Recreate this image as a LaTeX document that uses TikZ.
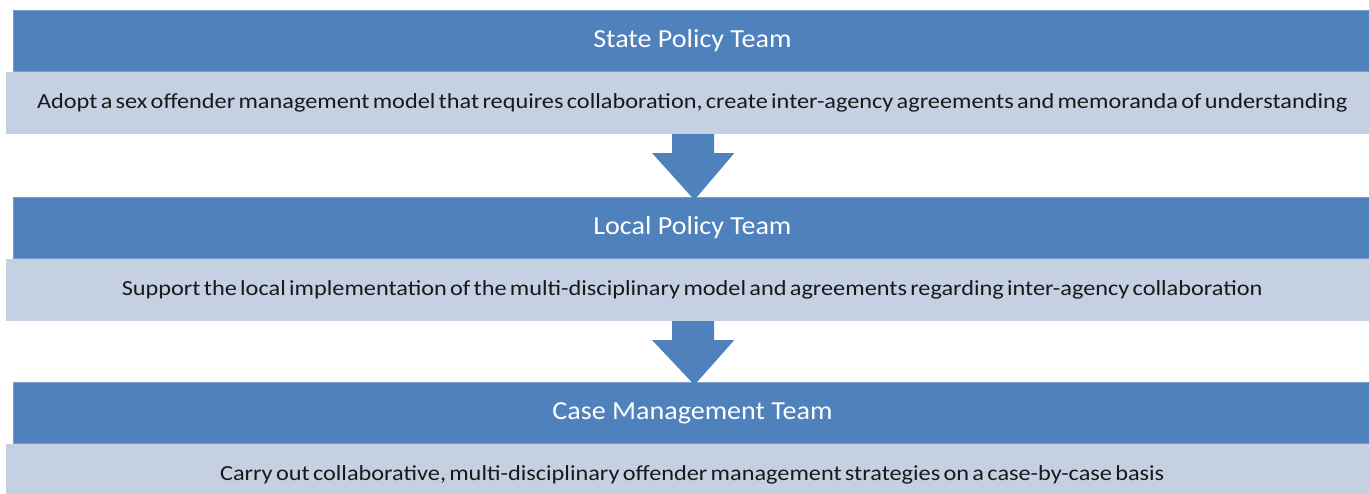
\documentclass[tikz,border=0pt]{standalone}
\usepackage{fontspec}
\setmainfont{Carlito}
\newfontfamily\teamfont[FakeStretch=1.08]{Carlito}
\newfontfamily\notefont[FakeStretch=1.13, WordSpace=0.6]{Carlito}
\usetikzlibrary{positioning,calc}
\definecolor{tmblue}{RGB}{79,129,189}
\definecolor{tmrim}{RGB}{120,158,206}
\definecolor{tmpale}{RGB}{197,208,227}
\definecolor{tmink}{RGB}{25,25,25}
\tikzset{
  teamhd/.style={
    fill=tmblue, draw=tmrim, line width=0.8pt, text=white,
    font=\teamfont\fontsize{26}{30}\selectfont, inner sep=0pt,
    minimum width=1358pt, minimum height=61pt, anchor=north west
  },
  teamtx/.style={
    fill=tmpale, text=tmink, font=\notefont\fontsize{21.5}{25}\selectfont,
    inner sep=0pt, minimum width=1372pt, minimum height=62pt
  },
  flow/.style={fill=tmblue}
}

\begin{document}
\begin{tikzpicture}[x=1pt, y=1pt]
  \useasboundingbox (0,0) rectangle (1369,-494);
  % three team bands, heading over description
  \node[teamhd] (hd1) at (13,-10) {State Policy Team};
  \node[teamtx, below=0pt of hd1.south west, anchor=north west, xshift=-7pt] (tx1)
    {Adopt a sex offender management model that requires collaboration, create inter-agency agreements and memoranda of understanding};
  \node[teamhd] (hd2) at (13,-197) {Local Policy Team};
  \node[teamtx, below=0pt of hd2.south west, anchor=north west, xshift=-7pt] (tx2)
    {Support the local implementation of the multi-disciplinary model and agreements regarding inter-agency collaboration};
  \node[teamhd] (hd3) at (13,-382) {Case Management Team};
  \node[teamtx, below=0pt of hd3.south west, anchor=north west, xshift=-7pt] (tx3)
    {Carry out collaborative, multi-disciplinary offender management strategies on a case-by-case basis};
  % block arrows between bands
  \fill[flow] ($(tx1.south)+(-20,0)$) -- ($(tx1.south)+(22,0)$) -- ++(0,-19) -- ++(20,0)
    -- ($(hd2.north)+(2,-3)$) -- ($(tx1.south)+(-40,-19)$) -- ++(20,0) -- cycle;
  \fill[flow] ($(tx2.south)+(-20,0)$) -- ($(tx2.south)+(22,0)$) -- ++(0,-19) -- ++(20,0)
    -- ($(hd3.north)+(2,-3)$) -- ($(tx2.south)+(-40,-19)$) -- ++(20,0) -- cycle;
\end{tikzpicture}
\end{document}
